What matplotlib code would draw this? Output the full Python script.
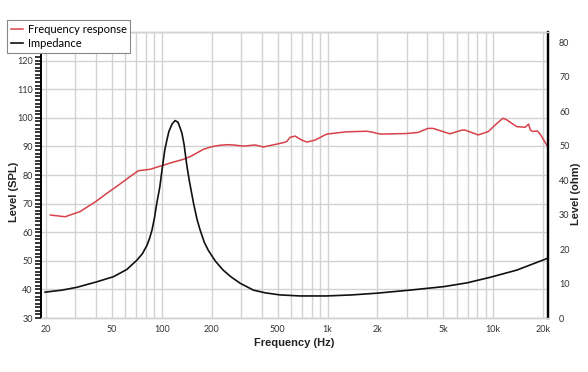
import matplotlib
matplotlib.use("Agg")
from matplotlib import pyplot as plt
from matplotlib.ticker import FixedLocator, LogLocator, AutoMinorLocator, NullFormatter

# frequency response (SPL, left axis)
spl_freq = [21.2, 26, 32, 40, 46.5, 55, 64, 72, 85, 95, 117, 135, 150, 178, 200, 224, 250,
            270, 310, 365, 410, 540, 566, 594, 638, 683, 748, 840, 985, 1300, 1720, 1850,
            2080, 3000, 3520, 4040, 4330, 5480, 6460, 6760, 8110, 9340, 10500, 11400,
            11900, 13870, 15600, 16350, 16760, 17330, 18470, 19340, 21000]
spl_db = [66.0, 65.4, 67.2, 70.8, 73.6, 76.6, 79.4, 81.5, 82.0, 82.9, 84.5, 85.5, 86.6,
          89.0, 89.9, 90.4, 90.6, 90.5, 90.1, 90.5, 89.8, 91.3, 91.7, 93.2, 93.6, 92.5,
          91.5, 92.2, 94.3, 95.1, 95.3, 95.0, 94.3, 94.5, 94.9, 96.3, 96.3, 94.4, 95.7,
          95.7, 94.0, 95.2, 98.0, 99.8, 99.5, 96.9, 96.7, 97.8, 95.7, 95.2, 95.4, 94.0, 90.5]

# impedance (ohm, right axis)
imp_freq = [19.7, 25, 30.6, 40.4, 51, 61.4, 70.6, 76, 81, 84, 87, 90, 93, 97, 100, 104,
            107, 110, 115, 120, 125, 129, 132, 136, 141, 146, 155, 163, 170, 180, 190,
            210, 234, 260, 296, 356, 420, 516, 683, 985, 1400, 1980, 3150, 5020, 6940,
            9560, 13870, 21200]
imp_ohm = [7.5, 8.1, 8.9, 10.5, 12.0, 14.1, 16.8, 18.6, 21.0, 23.0, 25.5, 29.0, 33.3,
           38.0, 42.9, 48.8, 51.6, 54.1, 56.3, 57.3, 56.8, 55.0, 53.6, 50.3, 44.5, 40.0,
           33.3, 28.5, 25.5, 22.0, 19.7, 16.5, 13.9, 12.0, 10.1, 8.1, 7.3, 6.7, 6.4, 6.4,
           6.7, 7.2, 8.1, 9.1, 10.2, 11.8, 13.9, 17.3]

x_ticks = [20, 50, 100, 200, 500, 1000, 2000, 5000, 10000, 20000]
x_labels = ["20", "50", "100", "200", "500", "1k", "2k", "5k", "10k", "20k"]
spl_ticks = [30, 40, 50, 60, 70, 80, 90, 100, 110, 120, 130]
spl_labels = ["30", "40", "50", "60", "70", "80", "90", "100", "110", "120", ""]
ohm_ticks = [0, 10, 20, 30, 40, 50, 60, 70, 80]

red = "#d7414a"
grid_c = "#d2d2d2"
tick_font = "Lato"

fig = plt.figure(figsize=(5.88, 3.72), dpi=100)
ax = fig.add_axes([41 / 588, 1 - 318 / 372, 507 / 588, 286 / 372])
ax2 = ax.twinx()

l1, = ax.plot(spl_freq, spl_db, color=red, lw=1.1, label="Frequency response")
l2, = ax2.plot(imp_freq, imp_ohm, color="#111111", lw=1.2, label="Impedance")

ax.set_xscale("log")
ax.set_xlim(18.6, 21400)
ax.set_ylim(30, 130)
ax2.set_ylim(0, 83)

ax.xaxis.set_major_locator(FixedLocator(x_ticks))
ax.set_xticklabels(x_labels)
ax.xaxis.set_minor_locator(LogLocator(base=10, subs=range(1, 10)))
ax.xaxis.set_minor_formatter(NullFormatter())
ax.tick_params(axis="x", which="both", length=0, pad=5, labelsize=6.5, labelcolor="#333333")

ax.set_yticks(spl_ticks)
ax.set_yticklabels(spl_labels)
ax.yaxis.set_minor_locator(AutoMinorLocator(8))
ax.tick_params(axis="y", which="both", direction="out", length=4, width=1.1,
               color="black", pad=2, labelsize=6.5, labelcolor="#333333")

ax2.set_yticks(ohm_ticks)
ax2.tick_params(axis="y", length=0, pad=8, labelsize=6.5, labelcolor="#333333")

for lab in ax.get_xticklabels() + ax.get_yticklabels() + ax2.get_yticklabels():
    lab.set_family(tick_font)

ax.grid(True, which="both", axis="x", color=grid_c, lw=1.0)
ax.grid(True, which="major", axis="y", color=grid_c, lw=1.0)
ax.set_axisbelow(True)

for a in (ax, ax2):
    a.spines["top"].set_color(grid_c)
    a.spines["bottom"].set_color(grid_c)
    a.spines["left"].set_color("black")
    a.spines["right"].set_color("black")
    a.spines["left"].set_linewidth(1.2)
    a.spines["right"].set_linewidth(1.6)
    a.spines["top"].set_linewidth(1.0)
    a.spines["bottom"].set_linewidth(1.0)

fig.text(14 / 588, 1 - 192 / 372, "Level (SPL)", rotation=90, ha="center", va="center",
         fontsize=8, fontweight="bold", family="Liberation Sans", color="#222222")
fig.text(576 / 588, 1 - 194 / 372, "Level (ohm)", rotation=90, ha="center", va="center",
         fontsize=8, fontweight="bold", family="Liberation Sans", color="#222222")
fig.text(294 / 588, 1 - 343 / 372, "Frequency (Hz)", ha="center", va="center",
         fontsize=8, fontweight="bold", family="Liberation Sans", color="#222222")

leg = fig.legend([l1, l2], ["Frequency response", "Impedance"], loc="upper left",
                 bbox_to_anchor=(7 / 588, 1 - 20 / 372), borderaxespad=0,
                 handlelength=1.1, handletextpad=0.4, borderpad=0.35, labelspacing=0.3,
                 fancybox=False, framealpha=1, edgecolor="#888888",
                 prop={"family": tick_font, "size": 8})
leg.get_frame().set_linewidth(0.8)

fig.savefig("out.png", dpi=100)
